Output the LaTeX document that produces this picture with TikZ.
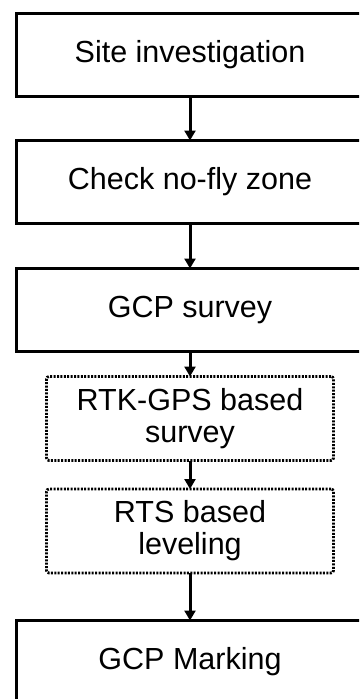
\documentclass[tikz,border=0pt]{standalone}
\usepackage{fontspec}
\setmainfont{Liberation Sans}
\usetikzlibrary{arrows.meta}
\begin{document}
\begin{tikzpicture}[x=1pt,y=-1pt,
  solidbox/.style={draw=black, line width=3pt, minimum width=348pt, minimum height=83pt,
    inner sep=0pt, outer sep=0pt, font=\fontsize{30.5}{33}\selectfont, align=center},
  dotbox/.style={draw=black, line width=2.8pt, dash pattern=on 2pt off 1.4pt, rounded corners=2.5pt,
    minimum width=287pt, minimum height=84pt, inner sep=0pt, outer sep=0pt,
    font=\fontsize{30.5}{32}\selectfont, align=center},
  flow/.style={line width=3pt, -{Triangle[width=11pt,length=10pt]}}]
\useasboundingbox (0,0) rectangle (359,699);
\clip (0,0) rectangle (359,699);
\node[solidbox] (s1) at (190,54.5) {Site investigation};
\node[solidbox] (s2) at (190,182) {Check no-fly zone};
\node[solidbox] (s3) at (190,310) {GCP survey};
\node[dotbox] (d1) at (190,418.5) {RTK-GPS based\\survey};
\node[dotbox] (d2) at (190,531) {RTS based\\leveling};
\node[solidbox] (s6) at (190,662) {GCP Marking};
\draw[flow] (s1.south) -- (s2.north);
\draw[flow] (s2.south) -- (s3.north);
\draw[flow] (s3.south) -- (d1.north);
\draw[flow] (d1.south) -- (d2.north);
\draw[flow] (d2.south) -- (s6.north);
\end{tikzpicture}
\end{document}
